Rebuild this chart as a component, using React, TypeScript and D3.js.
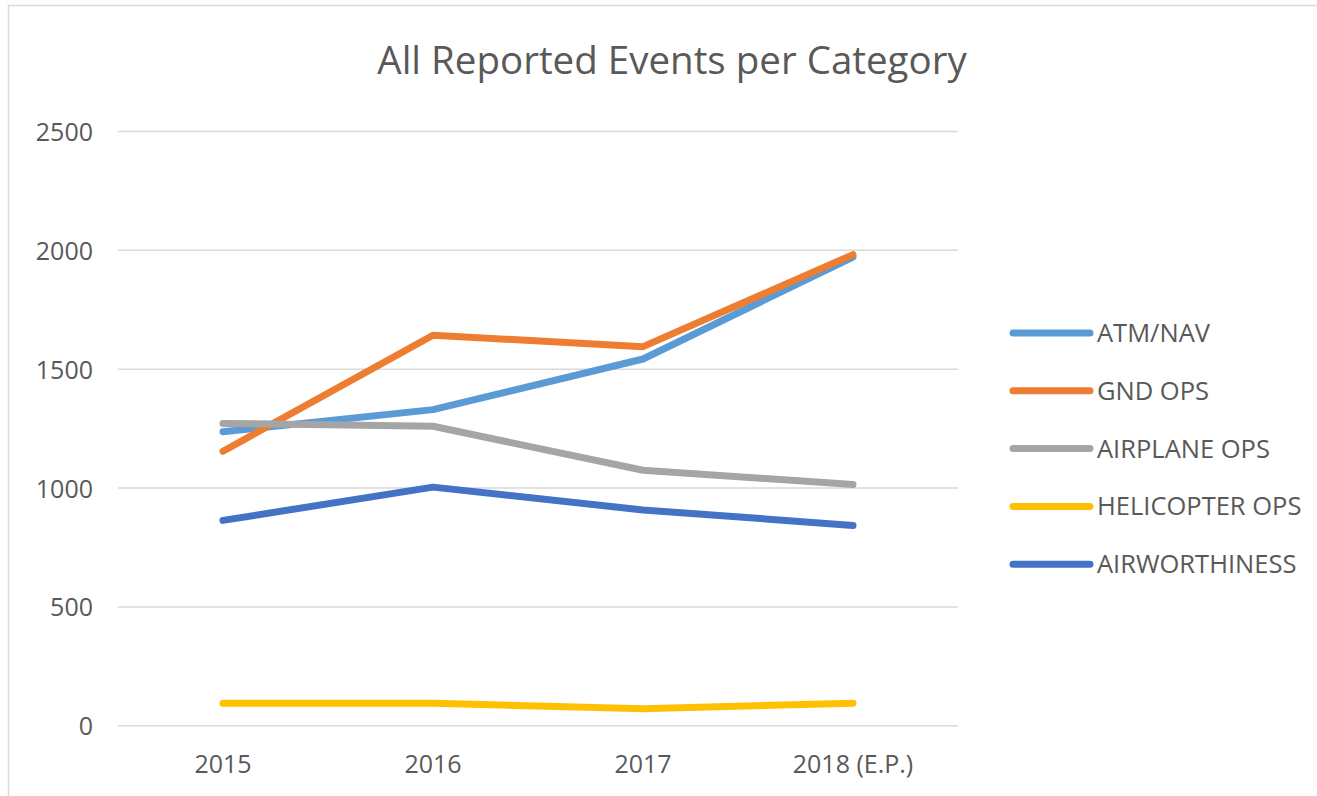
import { line, scaleLinear, scalePoint } from "d3";

const years = ["2015", "2016", "2017", "2018 (E.P.)"];
const yTicks = [0, 500, 1000, 1500, 2000, 2500];

const atmNav = [1237, 1330, 1543, 1972];
const gndOps = [1155, 1643, 1595, 1982];
const airplaneOps = [1272, 1260, 1075, 1015];
const helicopterOps = [95, 95, 72, 95];
const airworthiness = [864, 1004, 908, 843];

const seriesNames = ["ATM/NAV", "GND OPS", "AIRPLANE OPS", "HELICOPTER OPS", "AIRWORTHINESS"];
const seriesValues = [atmNav, gndOps, airplaneOps, helicopterOps, airworthiness];
const colors = ["#5b9bd5", "#ed7d31", "#a5a5a5", "#ffc000", "#4472c4"];

const W = 1317;
const H = 796;
const plot = { left: 118, right: 958, top: 131.5, bottom: 725.8 };
const font = "'Open Sans', 'Liberation Sans', sans-serif";
const textColor = "#595959";

const App = () => {
  const x = scalePoint<string>().domain(years).range([plot.left, plot.right]).padding(0.5);
  const y = scaleLinear().domain([0, 2500]).range([plot.bottom, plot.top]);

  const path = line<number>()
    .x((_, i) => x(years[i]) as number)
    .y((d) => y(d));

  return (
    <svg
      width={W}
      height={H}
      style={{ position: "absolute", left: 0, top: 0, background: "#fff" }}
      fontFamily={font}
    >
      <rect x={8.5} y={5.5} width={W + 10} height={H + 10} fill="#fff" stroke="#d9d9d9" strokeWidth={1.5} />

      <text x={672} y={74} textAnchor="middle" fontSize={38.5} fill={textColor}>
        All Reported Events per Category
      </text>

      {yTicks.map((t) => (
        <g key={t}>
          <line x1={plot.left} x2={plot.right} y1={y(t)} y2={y(t)} stroke="#d9d9d9" strokeWidth={1.5} />
          <text x={93} y={y(t) + 9.5} textAnchor="end" fontSize={25} fill={textColor}>
            {t}
          </text>
        </g>
      ))}

      {years.map((yr) => (
        <text key={yr} x={x(yr)} y={773} textAnchor="middle" fontSize={25} fill={textColor}>
          {yr}
        </text>
      ))}

      {seriesValues.map((vals, i) => (
        <path
          key={seriesNames[i]}
          d={path(vals) ?? ""}
          fill="none"
          stroke={colors[i]}
          strokeWidth={7}
          strokeLinecap="round"
          strokeLinejoin="round"
        />
      ))}

      {seriesNames.map((name, i) => {
        const ly = 333 + i * 57.8;
        return (
          <g key={name}>
            <line x1={1013} x2={1090} y1={ly} y2={ly} stroke={colors[i]} strokeWidth={7} strokeLinecap="round" />
            <text x={1097} y={ly + 9} fontSize={25.5} fill={textColor}>
              {name}
            </text>
          </g>
        );
      })}
    </svg>
  );
};

export default App;
